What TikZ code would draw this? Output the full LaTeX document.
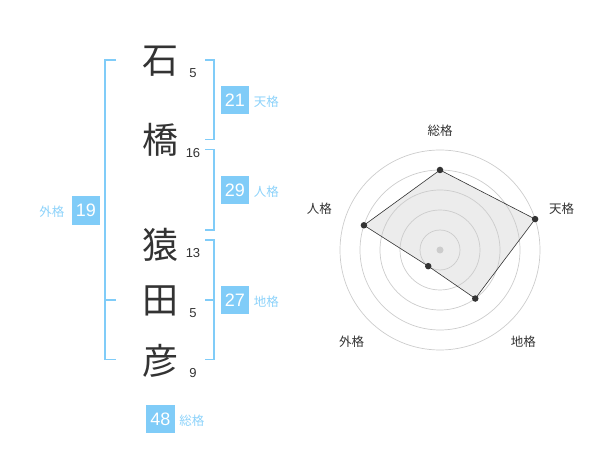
\documentclass[tikz,border=0pt]{standalone}
\usepackage{fontspec}
\setmainfont{Liberation Sans}
\newfontfamily\jpfont{Noto Sans CJK JP}
\usetikzlibrary{positioning, calc}
\definecolor{smBlue}{RGB}{128, 204, 248}
\definecolor{smLabel}{RGB}{140, 210, 250}
\definecolor{smDark}{RGB}{51, 51, 51}
\definecolor{smGrid}{RGB}{204, 204, 204}
\definecolor{smFill}{RGB}{236, 236, 236}
\tikzset{
    kanji/.style={
        font=\jpfont\fontsize{36}{36}\selectfont,
        text=smDark,
        inner sep=0pt
    },
    strokes/.style={
        font=\fontsize{13}{13}\selectfont,
        text=smDark,
        inner sep=0pt
    },
    numbox/.style={
        rectangle,
        fill=smBlue,
        text=white,
        minimum size=28.7pt,
        inner sep=0pt,
        font=\fontsize{18}{18}\selectfont
    },
    kaku/.style={
        font=\jpfont\fontsize{12.5}{12.5}\selectfont,
        text=smLabel,
        inner sep=0pt
    },
    bracket/.style={
        draw=smBlue,
        line width=1.5pt
    },
    ring/.style={
        draw=smGrid,
        line width=0.7pt
    },
    axislbl/.style={
        font=\jpfont\fontsize{12.5}{12.5}\selectfont,
        text=smDark,
        inner sep=0pt
    },
    dot/.style={
        circle,
        fill=smDark,
        inner sep=0pt,
        minimum size=6.5pt
    }
}
\begin{document}
\begin{tikzpicture}[x=1pt, y=-1pt]
    \useasboundingbox (0,0) rectangle (600,470);

    % Name
    \node[kanji] (k1) at (160,61) {石};
    \node[kanji] (k2) at (160,140) {橋};
    \node[kanji] (k3) at (160,245) {猿};
    \node[kanji] (k4) at (160,301) {田};
    \node[kanji] (k5) at (160,361) {彦};

    % Stroke counts
    \node[strokes] (s1) at (193,72.7) {5};
    \node[strokes] (s2) at (193,153.3) {16};
    \node[strokes] (s3) at (193,252.7) {13};
    \node[strokes] (s4) at (193,312.7) {5};
    \node[strokes] (s5) at (193,372.7) {9};

    % Brackets
    \draw[bracket] (205,60) -- (214,60) -- (214,139.5) -- (205,139.5);
    \draw[bracket] (205,149.5) -- (214,149.5) -- (214,230) -- (205,230);
    \draw[bracket] (205,240) -- (214,240) -- (214,359.5) -- (205,359.5);
    \draw[bracket] (205,300) -- (214,300);
    \draw[bracket] (116,60) -- (105,60) -- (105,359.5) -- (116,359.5);
    \draw[bracket] (105,300) -- (116,300);

    % Scores
    \node[numbox] (ten) at (235,100) {21};
    \node[numbox] (jin) at (235,190) {29};
    \node[numbox] (chi) at (235,300) {27};
    \node[numbox] (gai) at (86,210.5) {19};
    \node[numbox] (sou) at (160.5,419) {48};
    \node[kaku, right=4pt of ten.base east, anchor=base west] (tenlbl) {天格};
    \node[kaku, right=4pt of jin.base east, anchor=base west] (jinlbl) {人格};
    \node[kaku, right=4pt of chi.base east, anchor=base west] (chilbl) {地格};
    \node[kaku, right=4pt of sou.base east, anchor=base west] (soulbl) {総格};
    \node[kaku, left=7pt of gai.base west, anchor=base east] (gailbl) {外格};

    % Radar chart
    \begin{scope}[shift={(440,250)}, x=1pt, y=1pt]
        \coordinate (c) at (0,0);
        \coordinate (rsou) at (90:80);
        \coordinate (rten) at (18:100);
        \coordinate (rchi) at (-54:60);
        \coordinate (rgai) at (-126:20);
        \coordinate (rjin) at (162:80);

        \fill[smFill] (rsou) -- (rten) -- (rchi) -- (rgai) -- (rjin) -- cycle;
        \foreach \r in {20,40,...,100}
            \draw[ring] (c) circle (\r);
        \draw[smDark, line width=0.6pt] (rsou) -- (rten) -- (rchi) -- (rgai) -- (rjin) -- cycle;
        \fill[smGrid] (c) circle (3.5);

        \foreach \p in {rsou, rten, rchi, rgai, rjin}
            \node[dot] at (\p) {};

        \node[axislbl] (lsou) at (0,119.3) {総格};
        \node[axislbl] (lten) at (121.7,41.3) {天格};
        \node[axislbl] (ljin) at (-120.7,41.3) {人格};
        \node[axislbl] (lchi) at (83.3,-91.7) {地格};
        \node[axislbl] (lgai) at (-88.3,-91.7) {外格};
    \end{scope}
\end{tikzpicture}
\end{document}
